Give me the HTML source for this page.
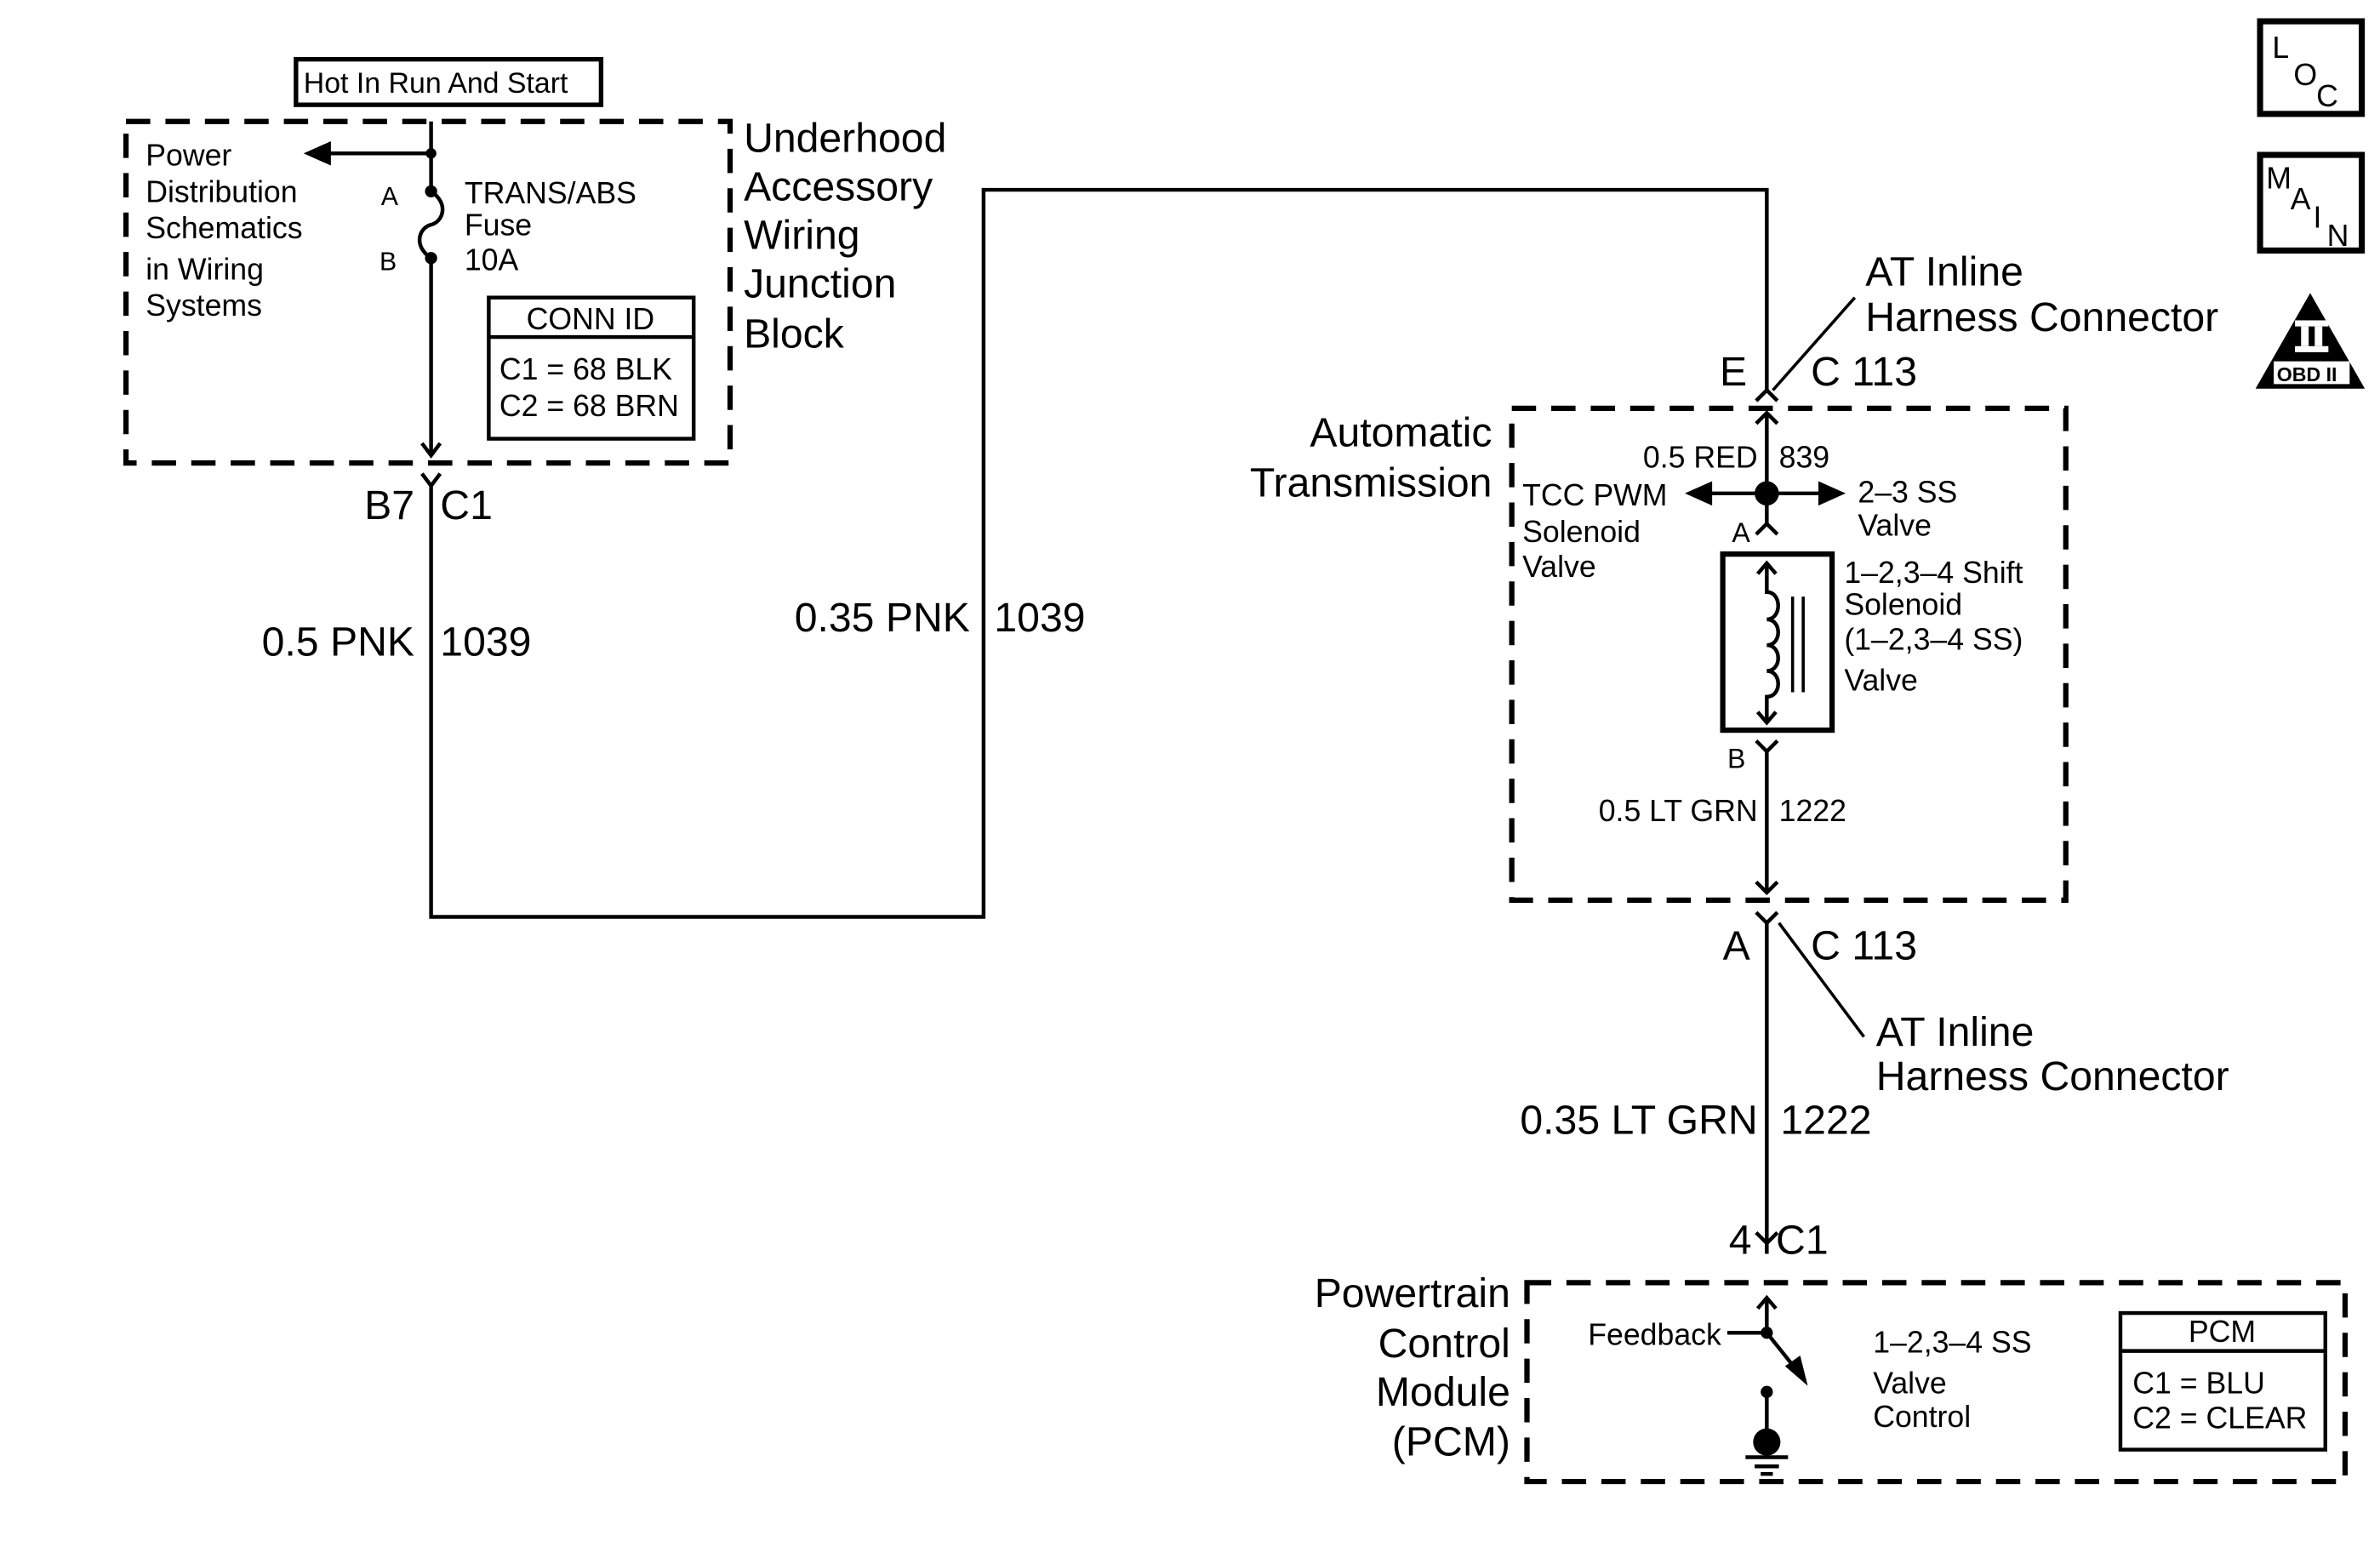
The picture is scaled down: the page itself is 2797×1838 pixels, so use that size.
<!DOCTYPE html>
<html><head><meta charset="utf-8"><style>
html,body{margin:0;padding:0;background:#fff}
svg{display:block}
text{font-family:"Liberation Sans",Arial,sans-serif;fill:#000}
</style></head><body>
<svg width="2797" height="1838" viewBox="0 0 1568 1030.3" xmlns="http://www.w3.org/2000/svg">
<g fill="none" stroke="#000" stroke-width="2.5">
<rect x="83" y="80" width="398" height="225" stroke-width="3.5" stroke-dasharray="16,10"/>
<rect x="996" y="269" width="365" height="324" stroke-width="3.5" stroke-dasharray="16,10"/>
<rect x="1006" y="845" width="539" height="131" stroke-width="3.5" stroke-dasharray="16,10"/>
<rect x="195" y="39" width="201" height="30" stroke-width="3"/>
<line x1="284" y1="80" x2="284" y2="126"/>
<line x1="284" y1="101" x2="215" y2="101"/>
<path d="M284 126 C296 134,292 146,284 148 C276 150,272 162,284 170"/>
<line x1="284" y1="170" x2="284" y2="300"/>
<polyline points="278,292 284,300 290,292"/>
<rect x="322" y="196" width="135" height="93" stroke-width="2.5"/>
<line x1="322" y1="222" x2="457" y2="222"/>
<polyline points="278,312 284,320 290,312"/>
<polyline points="284,320 284,604 648,604 648,125 1164,125 1164,257"/>
<polyline points="1157,264 1164,257 1171,264"/>
<polyline points="1157,279 1164,272 1171,279"/>
<line x1="1222" y1="196" x2="1168" y2="257" stroke-width="2"/>
<line x1="1164" y1="272" x2="1164" y2="345"/>
<line x1="1125" y1="325" x2="1203" y2="325"/>
<polyline points="1157,352 1164,345 1171,352"/>
<rect x="1135" y="365" width="72" height="116" stroke-width="3.5"/>
<polyline points="1158,378 1164,371 1170,378"/>
<path d="M1164 371 V390 C1174 390,1174 408,1164 408 C1174 408,1174 425,1164 425 C1174 425,1174 442,1164 442 C1174 442,1174 459,1164 459 V476"/>
<polyline points="1158,469 1164,476 1170,469"/>
<line x1="1181" y1="393" x2="1181" y2="456" stroke-width="2"/>
<line x1="1188" y1="393" x2="1188" y2="456" stroke-width="2"/>
<polyline points="1157,488 1164,495 1171,488"/>
<line x1="1164" y1="495" x2="1164" y2="588"/>
<polyline points="1157,581 1164,588 1171,581"/>
<polyline points="1157,601 1164,608 1171,601"/>
<line x1="1164" y1="608" x2="1164" y2="826"/>
<line x1="1172" y1="608" x2="1228" y2="683" stroke-width="2"/>
<polyline points="1157,812 1164,819 1171,812"/>
<polyline points="1158,862 1164,855 1170,862"/>
<line x1="1164" y1="855" x2="1164" y2="878"/>
<line x1="1138" y1="878" x2="1164" y2="878"/>
<line x1="1164" y1="878" x2="1184" y2="903"/>
<line x1="1164" y1="917" x2="1164" y2="948"/>
<line x1="1150" y1="960" x2="1178" y2="960"/>
<line x1="1156" y1="966" x2="1172" y2="966"/>
<line x1="1160" y1="971" x2="1168" y2="971"/>
<rect x="1397" y="865" width="135" height="90" stroke-width="2.5"/>
<line x1="1397" y1="890" x2="1532" y2="890"/>
<rect x="1489" y="14" width="67" height="61" stroke-width="4"/>
<rect x="1489" y="102" width="67" height="63" stroke-width="4"/>
</g>
<g fill="#000">
<circle cx="284" cy="101" r="3.5"/>
<circle cx="284" cy="126" r="4"/>
<circle cx="284" cy="170" r="4"/>
<polygon points="200,101 218,93 218,109"/>
<circle cx="1164" cy="325" r="8"/>
<polygon points="1110,325 1128,317 1128,333"/>
<polygon points="1216,325 1198,317 1198,333"/>
<circle cx="1164" cy="878" r="4"/>
<polygon points="1191,913 1176,900 1186,893"/>
<circle cx="1164" cy="917" r="4"/>
<circle cx="1164" cy="950" r="9"/>
<polygon points="1522,193 1486,256 1558,256"/>
</g>
<g fill="#fff">
<rect x="1512" y="211" width="22" height="4"/>
<rect x="1516" y="215" width="5" height="13"/>
<rect x="1525" y="215" width="5" height="13"/>
<rect x="1512" y="228" width="22" height="4"/>
<rect x="1498" y="238" width="50" height="15"/>
</g>
<text x="1500" y="251" font-size="13" font-weight="bold">OBD II</text>
<text x="200" y="61" font-size="19">Hot In Run And Start</text>
<g font-size="20">
<text x="96" y="109">Power</text><text x="96" y="133">Distribution</text><text x="96" y="157">Schematics</text><text x="96" y="184">in Wiring</text><text x="96" y="208">Systems</text>
<text x="251" y="135" font-size="17">A</text><text x="250" y="178" font-size="17">B</text>
<text x="306" y="134">TRANS/ABS</text><text x="306" y="155">Fuse</text><text x="306" y="178">10A</text>
<text x="389" y="217" text-anchor="middle">CONN ID</text>
<text x="329" y="250">C1 =  68 BLK</text><text x="329" y="274">C2 =  68 BRN</text>
<text x="1158" y="308" text-anchor="end">0.5 RED</text><text x="1172" y="308">839</text>
<text x="1003" y="333">TCC PWM</text><text x="1003" y="357">Solenoid</text><text x="1003" y="380">Valve</text>
<text x="1224" y="331">2–3 SS</text><text x="1224" y="353">Valve</text>
<text x="1141" y="357" font-size="18">A</text>
<text x="1215" y="384">1–2,3–4 Shift</text><text x="1215" y="405">Solenoid</text><text x="1215" y="428">(1–2,3–4 SS)</text><text x="1215" y="455">Valve</text>
<text x="1138" y="506" font-size="18">B</text>
<text x="1158" y="541" text-anchor="end">0.5 LT GRN</text><text x="1172" y="541">1222</text>
<text x="1134" y="886" text-anchor="end">Feedback</text>
<text x="1234" y="891">1–2,3–4 SS</text><text x="1234" y="918">Valve</text><text x="1234" y="940">Control</text>
<text x="1464" y="884" text-anchor="middle">PCM</text>
<text x="1405" y="918">C1 = BLU</text><text x="1405" y="941">C2 = CLEAR</text>
<text x="1497" y="38">L</text><text x="1511" y="56">O</text><text x="1526" y="70">C</text>
<text x="1493" y="124">M</text><text x="1509" y="138">A</text><text x="1524" y="150">I</text><text x="1533" y="162">N</text>
</g>
<g font-size="27">
<text x="490" y="100">Underhood</text><text x="490" y="132">Accessory</text><text x="490" y="164">Wiring</text><text x="490" y="196">Junction</text><text x="490" y="229">Block</text>
<text x="240" y="342">B7</text><text x="290" y="342">C1</text>
<text x="273" y="432" text-anchor="end">0.5 PNK</text><text x="290" y="432">1039</text>
<text x="639" y="416" text-anchor="end">0.35 PNK</text><text x="655" y="416">1039</text>
<text x="1229" y="188">AT Inline</text><text x="1229" y="218">Harness Connector</text>
<text x="1133" y="254">E</text><text x="1193" y="254">C 113</text>
<text x="983" y="294" text-anchor="end">Automatic</text><text x="983" y="327" text-anchor="end">Transmission</text>
<text x="1135" y="632">A</text><text x="1193" y="632">C 113</text>
<text x="1236" y="689">AT Inline</text><text x="1236" y="718">Harness Connector</text>
<text x="1158" y="747" text-anchor="end">0.35 LT GRN</text><text x="1173" y="747">1222</text>
<text x="1139" y="826">4</text><text x="1170" y="826">C1</text>
<text x="995" y="861" text-anchor="end">Powertrain</text><text x="995" y="894" text-anchor="end">Control</text><text x="995" y="926" text-anchor="end">Module</text><text x="995" y="959" text-anchor="end">(PCM)</text>
</g>
</svg>
</body></html>
